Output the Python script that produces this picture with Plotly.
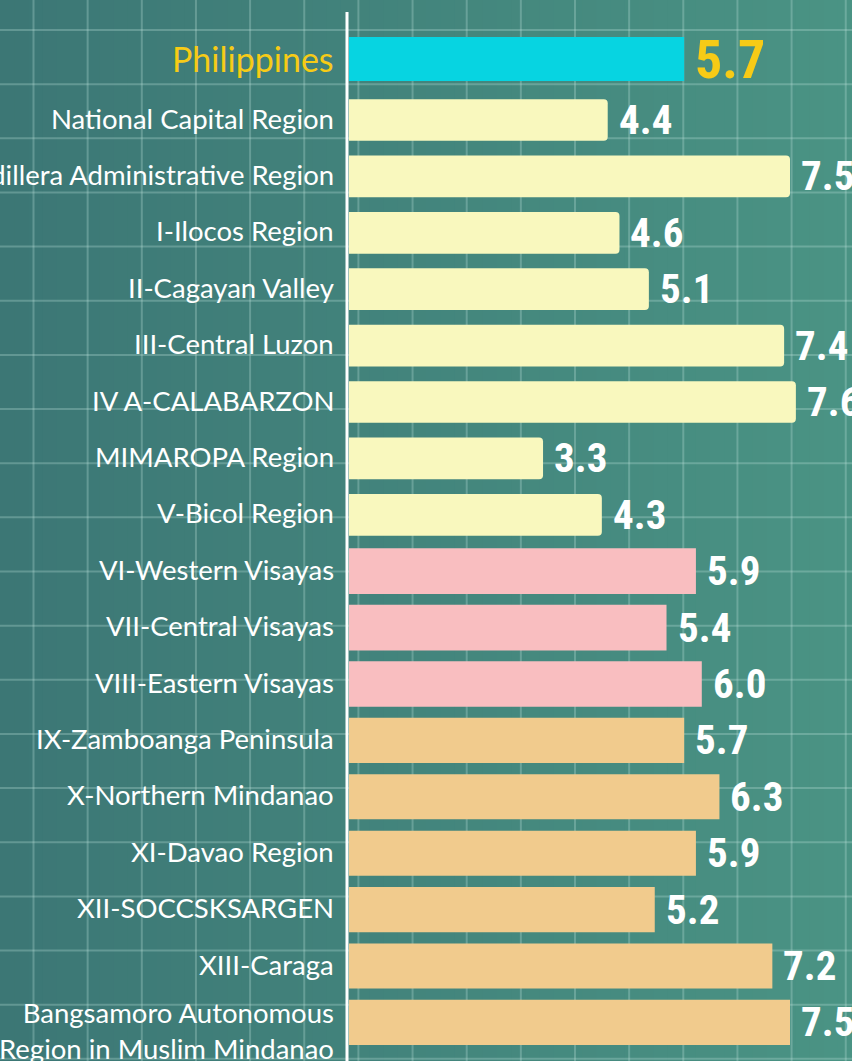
import plotly.graph_objects as go

# ---- data ----
regions = [
    "Philippines",
    "National Capital Region",
    "Cordillera Administrative Region",
    "I-Ilocos Region",
    "II-Cagayan Valley",
    "III-Central Luzon",
    "IV A-CALABARZON",
    "MIMAROPA Region",
    "V-Bicol Region",
    "VI-Western Visayas",
    "VII-Central Visayas",
    "VIII-Eastern Visayas",
    "IX-Zamboanga Peninsula",
    "X-Northern Mindanao",
    "XI-Davao Region",
    "XII-SOCCSKSARGEN",
    "XIII-Caraga",
    "Bangsamoro Autonomous<br>Region in Muslim Mindanao",
]
values = [5.7, 4.4, 7.5, 4.6, 5.1, 7.4, 7.6, 3.3, 4.3, 5.9, 5.4, 6.0, 5.7, 6.3, 5.9, 5.2, 7.2, 7.5]
groups = ["national"] + ["luzon"] * 8 + ["visayas"] * 3 + ["mindanao"] * 6

# ---- style ----
W, H = 852, 1061
AXIS_PX = 349
PX_PER_UNIT = 58.8
ROW_PX = 56.4
SECOND_CENTER_PX = 120
NATIONAL_EXTRA_GAP = 0.08  # extra space (in rows) between the national bar and regions

group_style = {
    "national": dict(color="#07d4e1", width=0.78, radius=0),
    "luzon": dict(color="#f9f8be", width=0.74, radius=4),
    "visayas": dict(color="#f9bec0", width=0.81, radius=0),
    "mindanao": dict(color="#f1cb8d", width=0.80, radius=0),
}

positions = [i - (NATIONAL_EXTRA_GAP if g == "national" else 0) for i, g in enumerate(groups)]

NUM_FONT = "Roboto Condensed, Noto Sans Condensed, DejaVu Sans Condensed, Liberation Sans Narrow, Roboto"

fig = go.Figure()
for g, st in group_style.items():
    idx = [i for i, gg in enumerate(groups) if gg == g]
    fig.add_trace(go.Bar(
        x=[values[i] for i in idx],
        y=[positions[i] for i in idx],
        orientation="h",
        marker=dict(color=st["color"], line=dict(width=0), cornerradius=st["radius"]),
        width=st["width"],
        hoverinfo="skip",
    ))

# value labels
for v, p, g in zip(values, positions, groups):
    if g == "national":
        font = dict(family=NUM_FONT, size=54, color="#f7cb16")
    else:
        font = dict(family=NUM_FONT, size=41, color="#ffffff")
    fig.add_annotation(x=v, y=p, xref="x", yref="y",
                       text=f"<span style='font-stretch:condensed'><b>{v:.1f}</b></span>",
                       showarrow=False, xanchor="left", yanchor="middle", xshift=9,
                       font=font)

# category labels
for name, p, g in zip(regions, positions, groups):
    if g == "national":
        font = dict(family="Lato", size=34, color="#f7cb16")
        yshift = 1
    else:
        font = dict(family="Lato", size=27.5, color="#ffffff")
        yshift = -8 if "<br>" in name else 2
    fig.add_annotation(x=(AXIS_PX - 13) / W, y=p, xref="paper", yref="y", text=name,
                       showarrow=False, xanchor="right", yanchor="middle", align="right",
                       yshift=yshift, font=font)

# ---- background gradient and graph-paper grid ----
def lerp(c1, c2, t):
    a = [int(c1[k:k + 2], 16) for k in (1, 3, 5)]
    b = [int(c2[k:k + 2], 16) for k in (1, 3, 5)]
    return "rgb(%d,%d,%d)" % tuple(round(a[j] + (b[j] - a[j]) * t) for j in range(3))

shapes = []
NB = 60
for k in range(NB):
    shapes.append(dict(type="rect", xref="paper", yref="paper", x0=k / NB, x1=(k + 1) / NB + 0.002,
                       y0=0, y1=1, fillcolor=lerp("#3c7775", "#4a9384", k / (NB - 1)),
                       line=dict(width=0), layer="below"))
GRID = 54.15
GRID_COLOR = "rgba(190,225,220,0.3)"
gx = 33.5
while gx < W:
    shapes.append(dict(type="line", xref="paper", yref="paper", x0=gx / W, x1=gx / W, y0=0, y1=1,
                       line=dict(color=GRID_COLOR, width=2), layer="below"))
    gx += GRID
gy = 30
while gy < H:
    shapes.append(dict(type="line", xref="paper", yref="paper", x0=0, x1=1, y0=1 - gy / H, y1=1 - gy / H,
                       line=dict(color=GRID_COLOR, width=2), layer="below"))
    gy += GRID
# axis line
shapes.append(dict(type="line", xref="paper", yref="paper", x0=(AXIS_PX - 2) / W, x1=(AXIS_PX - 2) / W,
                   y0=0, y1=1 - 12 / H, line=dict(color="#ffffff", width=3), layer="above"))

r_top = 1 - SECOND_CENTER_PX / ROW_PX
r_bot = r_top + H / ROW_PX

fig.update_layout(
    width=W, height=H,
    margin=dict(l=0, r=0, t=0, b=0),
    paper_bgcolor="#417f7b",
    plot_bgcolor="rgba(0,0,0,0)",
    showlegend=False,
    barmode="overlay",
    shapes=shapes,
    xaxis=dict(domain=[AXIS_PX / W, 1], range=[0, (W - AXIS_PX) / PX_PER_UNIT],
               showgrid=False, zeroline=False, showticklabels=False, showline=False, fixedrange=True),
    yaxis=dict(range=[r_bot, r_top], showgrid=False, zeroline=False, showticklabels=False,
               showline=False, fixedrange=True),
)

fig.write_html("out.html", config={"displayModeBar": False},
               post_script="document.body.style.margin='0';document.body.style.padding='0';")
